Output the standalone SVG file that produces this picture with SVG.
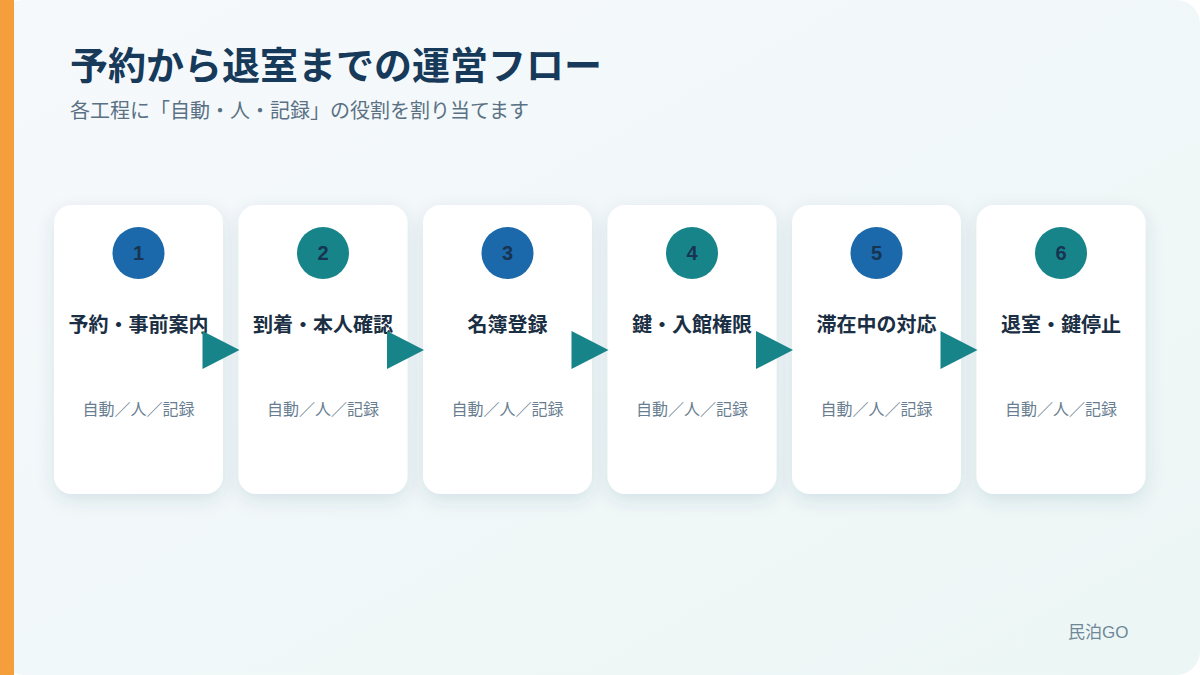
<svg xmlns="http://www.w3.org/2000/svg" width="1200" height="675" viewBox="0 0 1200 675">
<defs>
<linearGradient id="bg" x1="0" y1="0" x2="1" y2="1">
<stop offset="0" stop-color="#f6f9fc"/>
<stop offset="1" stop-color="#ecf6f5"/>
</linearGradient>
<filter id="sh" x="-30%" y="-20%" width="160%" height="140%">
<feDropShadow dx="0" dy="6" stdDeviation="9" flood-color="#1e4060" flood-opacity="0.12"/>
</filter>
<style>
.card{fill:#ffffff;filter:url(#sh)}
.blue{fill:#1b69aa}
.teal{fill:#17848a}
.num{font-family:"Liberation Sans","Noto Sans CJK JP",sans-serif;font-weight:700;font-size:20px;fill:#173452;text-anchor:middle}
.ttl{font-family:"Liberation Sans","Noto Sans CJK JP",sans-serif;font-weight:700;font-size:20px;fill:#1b2f44;text-anchor:middle}
.sub{font-family:"Liberation Sans","Noto Sans CJK JP",sans-serif;font-size:16px;fill:#687e90;text-anchor:middle}
.arr{fill:#17848a}
</style>
</defs>
<rect x="0" y="0" width="1200" height="675" fill="#ffffff"/>
<rect x="0" y="0" width="1200" height="675" rx="24" fill="url(#bg)"/>
<rect x="0" y="0" width="14" height="675" fill="#f59e3c"/>
<text x="70" y="79" font-family="'Liberation Sans','Noto Sans CJK JP',sans-serif" font-weight="700" font-size="38" fill="#173a5a">予約から退室までの運営フロー</text>
<text x="70" y="118" font-family="'Liberation Sans','Noto Sans CJK JP',sans-serif" font-size="20" fill="#5a7184">各工程に「自動・人・記録」の役割を割り当てます</text>
<g id="node1"><rect class="card" x="54" y="205" width="169" height="289" rx="18"/><circle class="blue" cx="138.5" cy="253" r="26"/><text class="num" x="138.5" y="260">1</text><text class="ttl" x="138.5" y="332">予約・事前案内</text><text class="sub" x="138.5" y="415">自動／人／記録</text></g>
<g id="node2"><rect class="card" x="238.5" y="205" width="169" height="289" rx="18"/><circle class="teal" cx="323" cy="253" r="26"/><text class="num" x="323" y="260">2</text><text class="ttl" x="323" y="332">到着・本人確認</text><text class="sub" x="323" y="415">自動／人／記録</text></g>
<g id="node3"><rect class="card" x="423" y="205" width="169" height="289" rx="18"/><circle class="blue" cx="507.5" cy="253" r="26"/><text class="num" x="507.5" y="260">3</text><text class="ttl" x="507.5" y="332">名簿登録</text><text class="sub" x="507.5" y="415">自動／人／記録</text></g>
<g id="node4"><rect class="card" x="607.5" y="205" width="169" height="289" rx="18"/><circle class="teal" cx="692" cy="253" r="26"/><text class="num" x="692" y="260">4</text><text class="ttl" x="692" y="332">鍵・入館権限</text><text class="sub" x="692" y="415">自動／人／記録</text></g>
<g id="node5"><rect class="card" x="792" y="205" width="169" height="289" rx="18"/><circle class="blue" cx="876.5" cy="253" r="26"/><text class="num" x="876.5" y="260">5</text><text class="ttl" x="876.5" y="332">滞在中の対応</text><text class="sub" x="876.5" y="415">自動／人／記録</text></g>
<g id="node6"><rect class="card" x="976.5" y="205" width="169" height="289" rx="18"/><circle class="teal" cx="1061" cy="253" r="26"/><text class="num" x="1061" y="260">6</text><text class="ttl" x="1061" y="332">退室・鍵停止</text><text class="sub" x="1061" y="415">自動／人／記録</text></g>
<g id="connectors">
<polygon class="arr" points="202.5,331 239.5,350 202.5,369"/>
<polygon class="arr" points="387,331 424,350 387,369"/>
<polygon class="arr" points="571.5,331 608.5,350 571.5,369"/>
<polygon class="arr" points="756,331 793,350 756,369"/>
<polygon class="arr" points="940.5,331 977.5,350 940.5,369"/>
</g>
<text x="1068" y="638" font-family="'Liberation Sans','Noto Sans CJK JP',sans-serif" font-size="17" fill="#6f8797">民泊GO</text>
</svg>
